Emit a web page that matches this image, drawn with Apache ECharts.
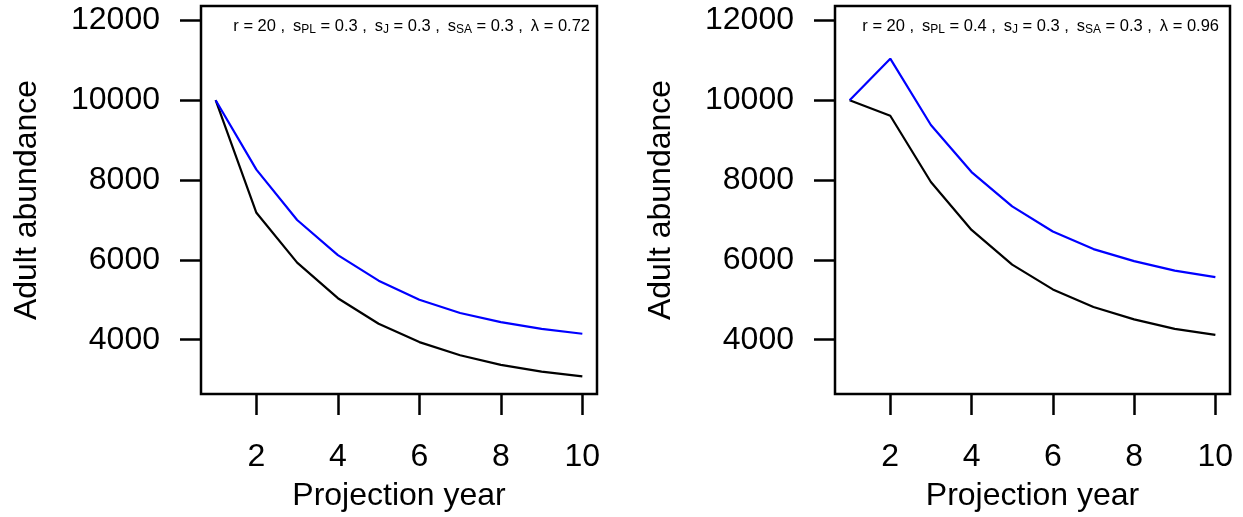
<!DOCTYPE html>
<html>
<head>
<meta charset="utf-8">
<script src="https://cdn.jsdelivr.net/npm/echarts@6/dist/echarts.min.js"></script>
<style>
  html, body { margin: 0; padding: 0; background: #ffffff; }
  #chart { width: 1243px; height: 517px; }
</style>
</head>
<body>
<div id="chart"></div>
<script>
// Projection years and abundance trajectories for the two parameter sets
const years = [1, 2, 3, 4, 5, 6, 7, 8, 9, 10];
const leftBlue  = [10000, 8260, 7000, 6120, 5480, 5000, 4670, 4440, 4270, 4150];
const leftBlack = [10000, 7180, 5930, 5040, 4400, 3940, 3610, 3370, 3200, 3080];
const rightBlue  = [10000, 11040, 9380, 8200, 7340, 6710, 6270, 5970, 5730, 5570];
const rightBlack = [10000, 9610, 7950, 6750, 5880, 5260, 4820, 4510, 4270, 4120];
const yTicks = [4000, 6000, 8000, 10000, 12000];
const xTicks = [2, 4, 6, 8, 10];
const xTitle = 'Projection year';
const yTitle = 'Adult abundance';
// Parameter labels: [r, sPL, sJ, sSA, lambda]
const leftParams  = ['20', '0.3', '0.3', '0.3', '0.72'];
const rightParams = ['20', '0.4', '0.3', '0.3', '0.96'];

const FONT = 'Liberation Sans, Arial, Helvetica, sans-serif';
const EQ = ' = ';
const SEP = ' , \u2009';

function pairs(xs, ys) { return xs.map((x, i) => [x, ys[i]]); }

// Plotmath-like label with subscripted survival names
function paramText(p) {
  return '{a|r' + EQ + p[0] + SEP + 's}{s|PL}{a|' + EQ + p[1] + SEP + 's}{s|J}{a|' + EQ + p[2] +
         SEP + 's}{s|SA}{a|' + EQ + p[3] + SEP + 'λ' + EQ + p[4] + '}';
}

const richStyle = {
  a: { fontFamily: FONT, fontSize: 16.5, fontWeight: 'normal', color: '#000', lineHeight: 22 },
  s: { fontFamily: FONT, fontSize: 12, fontWeight: 'normal', color: '#000', lineHeight: 22, padding: [7, 0, 0, 0] }
};

function xAxisCfg(gi) {
  return {
    gridIndex: gi, type: 'value', min: 0.64, max: 10.36,
    axisLine: { show: false },
    splitLine: { show: false },
    axisTick: { show: true, length: 21, lineStyle: { color: '#000', width: 2.5 }, customValues: xTicks },
    axisLabel: { show: true, margin: 47, fontFamily: FONT, fontSize: 32, color: '#000', customValues: xTicks,
                 formatter: v => String(v) },
    name: xTitle, nameLocation: 'middle', nameGap: 86,
    nameTextStyle: { fontFamily: FONT, fontSize: 32, color: '#000' }
  };
}

function yAxisCfg(gi) {
  return {
    gridIndex: gi, type: 'value', min: 2640, max: 12360,
    axisLine: { show: false },
    splitLine: { show: false },
    axisTick: { show: true, length: 21, lineStyle: { color: '#000', width: 2.5 }, customValues: yTicks },
    axisLabel: { show: true, margin: 41, fontFamily: FONT, fontSize: 32, color: '#000', customValues: yTicks,
                 formatter: v => String(v) },
    name: yTitle, nameLocation: 'middle', nameGap: 158,
    nameTextStyle: { fontFamily: FONT, fontSize: 32, color: '#000' }
  };
}

function lineSeries(gi, data, color) {
  return {
    type: 'line', xAxisIndex: gi, yAxisIndex: gi, data: data,
    showSymbol: false, symbol: 'none', animation: false,
    lineStyle: { color: color, width: 2.2 }
  };
}

const chart = echarts.init(document.getElementById('chart'), null, { renderer: 'canvas' });
chart.setOption({
  animation: false,
  backgroundColor: '#ffffff',
  grid: [
    { left: 201, top: 6, width: 396, height: 391, show: true, borderColor: '#000', borderWidth: 2.5, backgroundColor: 'transparent' },
    { left: 835, top: 6, width: 395, height: 391, show: true, borderColor: '#000', borderWidth: 2.5, backgroundColor: 'transparent' }
  ],
  title: [
    { text: paramText(leftParams), right: 1243 - 590, top: 15, padding: 0,
      textStyle: { fontWeight: 'normal', rich: richStyle } },
    { text: paramText(rightParams), right: 1243 - 1219, top: 15, padding: 0,
      textStyle: { fontWeight: 'normal', rich: richStyle } }
  ],
  xAxis: [xAxisCfg(0), xAxisCfg(1)],
  yAxis: [yAxisCfg(0), yAxisCfg(1)],
  series: [
    lineSeries(0, pairs(years, leftBlack), '#000000'),
    lineSeries(0, pairs(years, leftBlue), '#0000ff'),
    lineSeries(1, pairs(years, rightBlack), '#000000'),
    lineSeries(1, pairs(years, rightBlue), '#0000ff')
  ]
});
</script>
</body>
</html>
